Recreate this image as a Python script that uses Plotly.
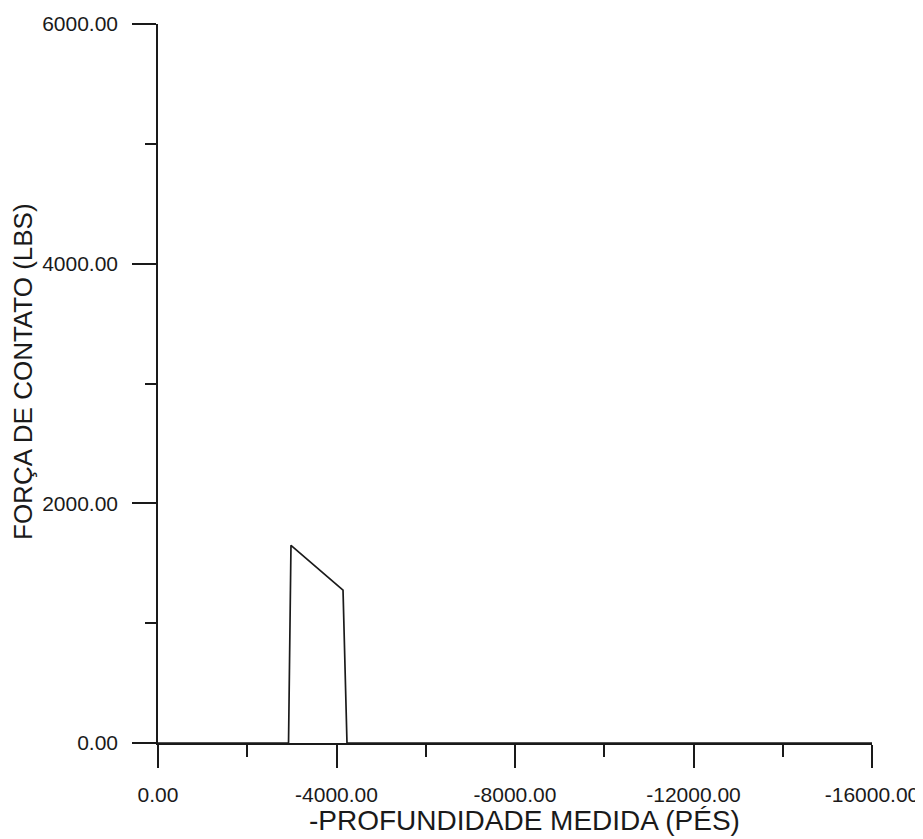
import plotly.graph_objects as go

# Data
depth = [0, -2925, -2980, -4146, -4235, -16000]
force = [0, 0, 1650, 1275, 0, 0]

x_tickvals = [0, -4000, -8000, -12000, -16000]
x_ticktext = ["0.00", "-4000.00", "-8000.00", "-12000.00", "-16000.00"]
y_tickvals = [0, 2000, 4000, 6000]
y_ticktext = ["0.00", "2000.00", "4000.00", "6000.00"]

x_title = "-PROFUNDIDADE MEDIDA (PÉS)"
y_title = "FORÇA DE CONTATO (LBS)"

FONT = "Liberation Sans, Arial, sans-serif"
INK = "#1a1a1a"

fig = go.Figure()
fig.add_trace(go.Scatter(
    x=depth, y=force, mode="lines",
    line=dict(color=INK, width=1.7),
    showlegend=False, hoverinfo="skip",
))

# page body has an 8px margin, so the figure is 8px smaller than the window
fig.update_layout(
    width=915, height=831,
    margin=dict(l=150, r=51, t=16, b=96, autoexpand=False),
    paper_bgcolor="white", plot_bgcolor="white",
    font=dict(family=FONT, color=INK),
    xaxis=dict(
        range=[0, -16000], showgrid=False, zeroline=False,
        showline=True, linecolor=INK, linewidth=1.5,
        ticks="outside", ticklen=23, tickwidth=1.5, tickcolor=INK,
        tickvals=x_tickvals, ticktext=x_ticktext,
        tickfont=dict(size=21, family=FONT, color=INK),
        ticklabelstandoff=9,
        minor=dict(ticks="outside", ticklen=12, tickwidth=1.5, tickcolor=INK,
                   dtick=2000, tick0=0, showgrid=False),
        automargin=False,
    ),
    yaxis=dict(
        range=[0, 6000], showgrid=False, zeroline=False,
        showline=True, linecolor=INK, linewidth=1.5,
        ticks="outside", ticklen=24, tickwidth=1.5, tickcolor=INK,
        tickvals=y_tickvals, ticktext=y_ticktext,
        tickfont=dict(size=21, family=FONT, color=INK),
        ticklabelstandoff=10,
        minor=dict(ticks="outside", ticklen=11, tickwidth=1.5, tickcolor=INK,
                   dtick=1000, tick0=0, showgrid=False),
        automargin=False,
    ),
    annotations=[
        dict(
            text=y_title, textangle=-90, showarrow=False,
            xref="paper", yref="paper", x=0, y=0.516,
            xanchor="center", yanchor="middle", xshift=-135,
            font=dict(size=26, family=FONT, color=INK),
        ),
        dict(
            text=x_title, showarrow=False,
            xref="paper", yref="paper", x=0.514, y=0,
            xanchor="center", yanchor="middle", yshift=-77,
            font=dict(size=28, family=FONT, color=INK),
        ),
    ],
)

fig.write_html("out.html")
